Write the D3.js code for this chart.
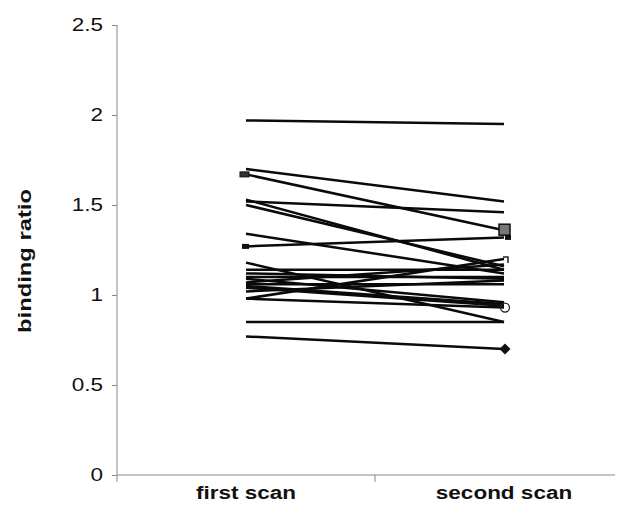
<!DOCTYPE html>
<html lang="en">
<head>
  <meta charset="UTF-8">
  <title>Binding ratio, first vs second scan</title>
  <style>
    html, body { margin: 0; padding: 0; background: #fff; }
    svg { display: block; }
    .pair { fill: none; stroke: #0a0a0a; stroke-width: 2.5; }
    .axis line, .axis-line { stroke: #888; stroke-width: 1; }
    text { fill: #111; font-family: "Liberation Sans", Arial, sans-serif; }
  </style>
</head>
<body>
  <svg id="chart" width="624" height="522"></svg>

  <script src="https://cdn.jsdelivr.net/npm/d3@7"></script>
  <script>
    // data
    const categories = ["first scan", "second scan"];
    const firstScan  = [1.97, 1.70, 1.67, 1.53, 1.52, 1.50, 1.34, 1.27, 1.18, 1.14, 1.12,
                        1.10, 1.09, 1.07, 1.06, 1.05, 1.04, 1.02, 0.98, 0.98, 0.85, 0.77];
    const secondScan = [1.95, 1.52, 1.36, 1.14, 1.46, 1.16, 1.12, 1.32, 0.85, 1.14, 1.09,
                        1.10, 0.96, 1.17, 1.06, 0.95, 0.94, 1.08, 1.20, 0.93, 0.85, 0.70];
    const yTicks = [0, 0.5, 1, 1.5, 2, 2.5];
    const yTitle = "binding ratio";

    // a few subjects carry a visible marker at one end
    const markerLine  = [2, 7, 2, 7, 18, 19, 21];
    const markerSide  = [0, 0, 1, 1, 1, 1, 1];
    const markerShape = ["rectL", "rectS", "squareBig", "squareSmall", "bracket", "circle", "diamond"];

    const svg = d3.select("#chart");
    const stretch = 1.25; // the scan is wider than tall

    const y = d3.scaleLinear().domain([0, 2.5]).range([475, 25]);
    const xBand = d3.scaleBand().domain(categories).range([117, 633]);
    const x = d3.scalePoint().domain(categories).range([117, 633]).padding(0.5);

    // y axis
    const gy = svg.append("g")
      .attr("class", "axis")
      .attr("transform", "translate(117,0)")
      .call(d3.axisLeft(y).tickValues(yTicks).tickSize(5).tickPadding(9).tickFormat(d3.format("")));
    gy.select(".domain").remove();
    gy.selectAll(".tick text")
      .attr("font-size", 18)
      .attr("font-family", "'Liberation Sans', Arial, sans-serif")
      .attr("fill", "#111");

    svg.append("line").attr("class", "axis-line")
      .attr("x1", 117).attr("x2", 117).attr("y1", y(2.5)).attr("y2", y(0));

    // x axis
    svg.append("line").attr("class", "axis-line")
      .attr("x1", 117).attr("x2", 615).attr("y1", y(0)).attr("y2", y(0));
    svg.selectAll(".xtick").data(categories).join("line")
      .attr("class", "axis-line")
      .attr("x1", d => xBand(d)).attr("x2", d => xBand(d))
      .attr("y1", y(0)).attr("y2", y(0) + 7);

    svg.selectAll(".xlabel").data(categories).join("text")
      .attr("class", "xlabel")
      .attr("x", d => x(d))
      .attr("y", 499)
      .attr("text-anchor", "middle")
      .attr("font-size", 18)
      .attr("font-weight", "bold")
      .text(d => d);

    svg.append("text")
      .attr("class", "ytitle")
      .attr("transform", `translate(31,${(190 + 332) / 2}) rotate(-90)`)
      .attr("text-anchor", "middle")
      .attr("font-size", 19)
      .attr("font-weight", "bold")
      .text(yTitle);

    // paired lines
    const pairs = firstScan.map((v, i) => [v, secondScan[i]]);
    const line = d3.line()
      .x((d, j) => x(categories[j]))
      .y(d => y(d));
    svg.append("g").selectAll("path").data(pairs).join("path")
      .attr("class", "pair")
      .attr("d", line);

    // markers
    const mg = svg.append("g");
    markerLine.forEach((li, k) => {
      const side = markerSide[k];
      const cx = x(categories[side]);
      const cy = y(side === 0 ? firstScan[li] : secondScan[li]);
      const shape = markerShape[k];
      if (shape === "rectL") {
        mg.append("rect").attr("x", cx - 6).attr("y", cy - 2.5).attr("width", 9).attr("height", 5)
          .attr("fill", "#333").attr("stroke", "#111");
      } else if (shape === "rectS") {
        mg.append("rect").attr("x", cx - 4).attr("y", cy - 2.5).attr("width", 7).attr("height", 5)
          .attr("fill", "#111");
      } else if (shape === "squareBig") {
        mg.append("rect").attr("x", cx - 5).attr("y", cy - 6).attr("width", 11).attr("height", 11)
          .attr("fill", "#777").attr("stroke", "#111").attr("stroke-width", 1.5);
      } else if (shape === "squareSmall") {
        mg.append("rect").attr("x", cx + 1).attr("y", cy - 2.5).attr("width", 6).attr("height", 5)
          .attr("fill", "#111");
      } else if (shape === "bracket") {
        mg.append("path")
          .attr("d", `M${cx - 1},${cy - 2} L${cx + 4},${cy - 2} L${cx + 4},${cy + 4}`)
          .attr("fill", "none").attr("stroke", "#222").attr("stroke-width", 1.5);
      } else if (shape === "circle") {
        mg.append("circle").attr("cx", cx + 1).attr("cy", cy).attr("r", 4.5)
          .attr("fill", "none").attr("stroke", "#222").attr("stroke-width", 1.3);
      } else if (shape === "diamond") {
        mg.append("path")
          .attr("transform", `translate(${cx + 1},${cy}) rotate(45)`)
          .attr("d", d3.symbol(d3.symbolSquare, 60)())
          .attr("fill", "#111");
      }
    });

    // widen the text the same way the scan is widened
    svg.selectAll("text").each(function () {
      const len = this.getComputedTextLength();
      d3.select(this)
        .attr("textLength", len * stretch)
        .attr("lengthAdjust", "spacingAndGlyphs");
    });
  </script>
</body>
</html>
